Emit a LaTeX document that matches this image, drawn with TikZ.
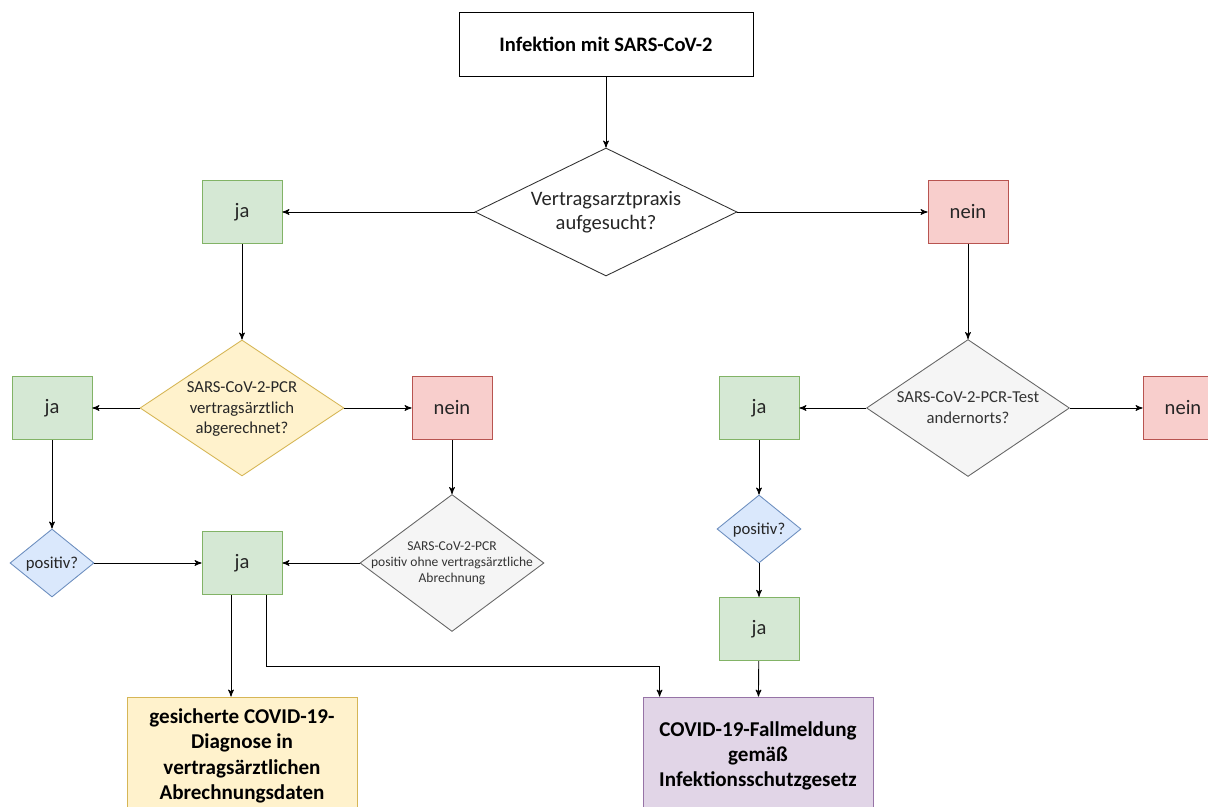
\documentclass[tikz,border=0pt]{standalone}
\usepackage{fontspec}
\setmainfont{Carlito}
\usepackage{tikz}
\usetikzlibrary{shapes.geometric,arrows,calc}
\usepackage{xcolor}

\definecolor{jafill}{HTML}{D5E8D4}
\definecolor{jadraw}{HTML}{82B366}
\definecolor{neinfill}{HTML}{F8CECC}
\definecolor{neindraw}{HTML}{B85450}
\definecolor{gelbfill}{HTML}{FFF2CC}
\definecolor{gelbdraw}{HTML}{D6B656}
\definecolor{blaufill}{HTML}{DAE8FC}
\definecolor{blaudraw}{HTML}{6C8EBF}
\definecolor{graufill}{HTML}{F5F5F5}
\definecolor{graudraw}{HTML}{666666}
\definecolor{lilafill}{HTML}{E1D5E7}
\definecolor{liladraw}{HTML}{9673A6}

\newcommand{\dtext}[1]{\makebox[0pt]{\smash{\raisebox{-.3em}{\begin{tabular}{@{}c@{}}#1\end{tabular}}}}}

\begin{document}
\begin{tikzpicture}[x=0.02cm,y=-0.02cm,->,>=stealth',line width=0.5pt,
	box/.style={rectangle,draw,inner sep=0pt,minimum width=1.6cm,minimum height=1.27cm,text=black!85,font=\fontsize{11.7}{13.6}\selectfont},
	jabox/.style={box,fill=jafill,draw=jadraw},
	neinbox/.style={box,fill=neinfill,draw=neindraw},
	raute/.style={diamond,draw,inner sep=0pt,text=black!85,font=\fontsize{9.5}{11.5}\selectfont},
	ende/.style={rectangle,draw,inner sep=0pt,minimum width=4.6cm,minimum height=2.36cm,align=center,font=\fontsize{12}{14.4}\selectfont\bfseries}]
		\useasboundingbox (0,0) rectangle (1208,807);
		
		\node[box,text=black,minimum width=5.88cm,minimum height=1.28cm,font=\fontsize{11.7}{13.6}\selectfont\bfseries] (start) at (606,44) {Infektion mit SARS-CoV-2};
		\node[raute,draw=black!80,minimum width=5.24cm,minimum height=2.56cm,font=\fontsize{11.7}{13.6}\selectfont] (praxis) at (606,212) {\dtext{Vertragsarztpraxis\\aufgesucht?}};
		\node[jabox] (ja1) at (242,212) {ja};
		\node[neinbox] (nein1) at (968,212) {nein};
		
		\node[raute,fill=gelbfill,draw=gelbdraw,minimum width=4.08cm,minimum height=2.72cm] (abger) at (242,408) {\dtext{SARS-CoV-2-PCR\\vertragsärztlich\\abgerechnet?}};
		\node[jabox] (ja2) at (52,408) {ja};
		\node[neinbox] (nein2) at (452,408) {nein};
		\node[raute,fill=graufill,draw=graudraw,text=black!80,minimum width=4.06cm,minimum height=2.74cm] (andern) at (968,408) {\dtext{SARS-CoV-2-PCR-Test\\andernorts?}};
		\node[jabox] (ja4) at (759,408) {ja};
		\node[neinbox] (nein4) at (1183,408) {nein};
		
		\node[raute,fill=blaufill,draw=blaudraw,minimum width=1.68cm,minimum height=1.36cm] (pos1) at (52,563) {\dtext{positiv?}};
		\node[raute,fill=graufill,draw=graudraw,text=black!80,minimum width=3.68cm,minimum height=2.74cm,font=\fontsize{7.7}{9}\selectfont] (ohne) at (452,563) {\dtext{SARS-CoV-2-PCR\\positiv ohne vertragsärztliche\\Abrechnung}};
		\node[jabox] (ja3) at (242,563) {ja};
		\node[raute,fill=blaufill,draw=blaudraw,minimum width=1.68cm,minimum height=1.36cm] (pos2) at (759,529) {\dtext{positiv?}};
		\node[jabox] (ja5) at (759,629) {ja};
		
		\node[ende,fill=gelbfill,draw=gelbdraw] (diag) at (242,756) {gesicherte COVID-19-\\Diagnose in\\vertragsärztlichen\\Abrechnungsdaten};
		\node[ende,fill=lilafill,draw=liladraw] (meldung) at (758,756) {COVID-19-Fallmeldung\\gemäß\\Infektionsschutzgesetz};
		
		\path[->] (start) edge (praxis);
		\path[->] (praxis) edge (ja1);
		\path[->] (praxis) edge (nein1);
		\path[->] (ja1) edge (abger);
		\path[->] (nein1) edge (andern);
		
		\path[->] (abger) edge (ja2);
		\path[->] (abger) edge (nein2);
		\path[->] (ja2) edge (pos1);
		\path[->] (nein2) edge (ohne);
		\path[->] (pos1) edge (ja3);
		\path[->] (ohne) edge (ja3);
		
		\path[->] (andern) edge (ja4);
		\path[->] (andern) edge (nein4);
		\path[->] (ja4) edge (pos2);
		\path[->] (pos2) edge (ja5);
		\path[->] (ja5) edge (meldung);
		
		\draw[->] ([xshift=-0.22cm]ja3.south) -- ([xshift=-0.22cm]ja3.south |- diag.north);
		\draw[->] ([xshift=0.49cm]ja3.south) -- ++(0,71) -| ([xshift=0.34cm]meldung.north west);
\end{tikzpicture}
\end{document}
